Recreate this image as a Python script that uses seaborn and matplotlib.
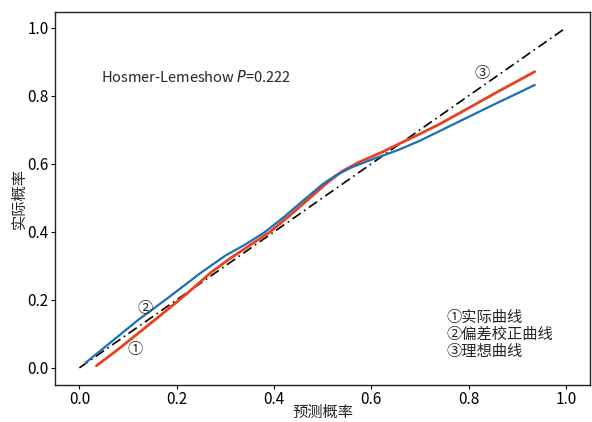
import matplotlib
matplotlib.use("Agg")
import matplotlib.pyplot as plt
import seaborn as sns
import pandas as pd

# calibration curves
actual_x = [0.035, 0.08, 0.13, 0.18, 0.224, 0.27, 0.31, 0.35, 0.39, 0.43, 0.47,
            0.51, 0.54, 0.575, 0.62, 0.656, 0.70, 0.738, 0.78, 0.82, 0.86, 0.90, 0.936]
actual_y = [0.006, 0.055, 0.112, 0.17, 0.222, 0.28, 0.322, 0.36, 0.398, 0.445, 0.495,
            0.545, 0.578, 0.605, 0.633, 0.658, 0.688, 0.715, 0.748, 0.78, 0.812, 0.843, 0.871]

corrected_x = [0.012, 0.06, 0.12, 0.186, 0.25, 0.30, 0.34, 0.38, 0.42, 0.46, 0.50,
               0.527, 0.56, 0.60, 0.656, 0.70, 0.74, 0.78, 0.82, 0.86, 0.90, 0.936]
corrected_y = [0.014, 0.07, 0.14, 0.21, 0.28, 0.33, 0.362, 0.398, 0.443, 0.492, 0.54,
               0.566, 0.59, 0.612, 0.641, 0.668, 0.696, 0.724, 0.752, 0.78, 0.807, 0.832]

ideal_x = [0.0, 1.0]
ideal_y = [0.0, 1.0]

ticks = [0.0, 0.2, 0.4, 0.6, 0.8, 1.0]
legend_lines = ["①实际曲线", "②偏差校正曲线", "③理想曲线"]
hl_p = "0.222"

sns.set_style("ticks")
plt.rcParams['font.family'] = ['Noto Sans CJK SC', 'DejaVu Sans']
plt.rcParams['axes.unicode_minus'] = False

fig = plt.figure(figsize=(5.92, 4.22), dpi=100)
ax = fig.add_axes([0.093, 0.088, 0.904, 0.884])

df_ideal = pd.DataFrame({"x": ideal_x, "y": ideal_y})
df_act = pd.DataFrame({"x": actual_x, "y": actual_y})
df_cor = pd.DataFrame({"x": corrected_x, "y": corrected_y})

sns.lineplot(data=df_ideal, x="x", y="y", ax=ax, color="black", linewidth=1.2, sort=False)
ax.lines[-1].set_linestyle((0, (6, 2.5, 1, 2.5)))
sns.lineplot(data=df_act, x="x", y="y", ax=ax, color="#E8421C", linewidth=2.0, sort=False)
sns.lineplot(data=df_cor, x="x", y="y", ax=ax, color="#1B6FB6", linewidth=1.6, sort=False)

ax.set_xlim(-0.05, 1.05)
ax.set_ylim(-0.05, 1.047)
ax.set_xticks(ticks)
ax.set_yticks(ticks)
ax.set_xticklabels([f"{t:.1f}" for t in ticks], fontsize=11)
ax.set_yticklabels([f"{t:.1f}" for t in ticks], fontsize=11)
ax.tick_params(length=3, width=0.8, colors="black", pad=1.5)
for s in ax.spines.values():
    s.set_color("#222222")
    s.set_linewidth(1.0)

ax.set_xlabel("预测概率", fontsize=11, labelpad=-3)
ax.set_ylabel("实际概率", fontsize=11, labelpad=0)

ax.text(0.045, 0.856, "Hosmer-Lemeshow $\\it{P}$=" + hl_p, fontsize=10.5,
        va="center", ha="left")
ax.text(0.115, 0.053, "①", fontsize=11, ha="center", va="center")
ax.text(0.135, 0.176, "②", fontsize=11, ha="center", va="center")
ax.text(0.828, 0.865, "③", fontsize=11, ha="center", va="center")
for i, t in enumerate(legend_lines):
    ax.text(0.755, 0.147 - i * 0.05, t, fontsize=11, ha="left", va="center")

fig.savefig("out.png", dpi=100)
